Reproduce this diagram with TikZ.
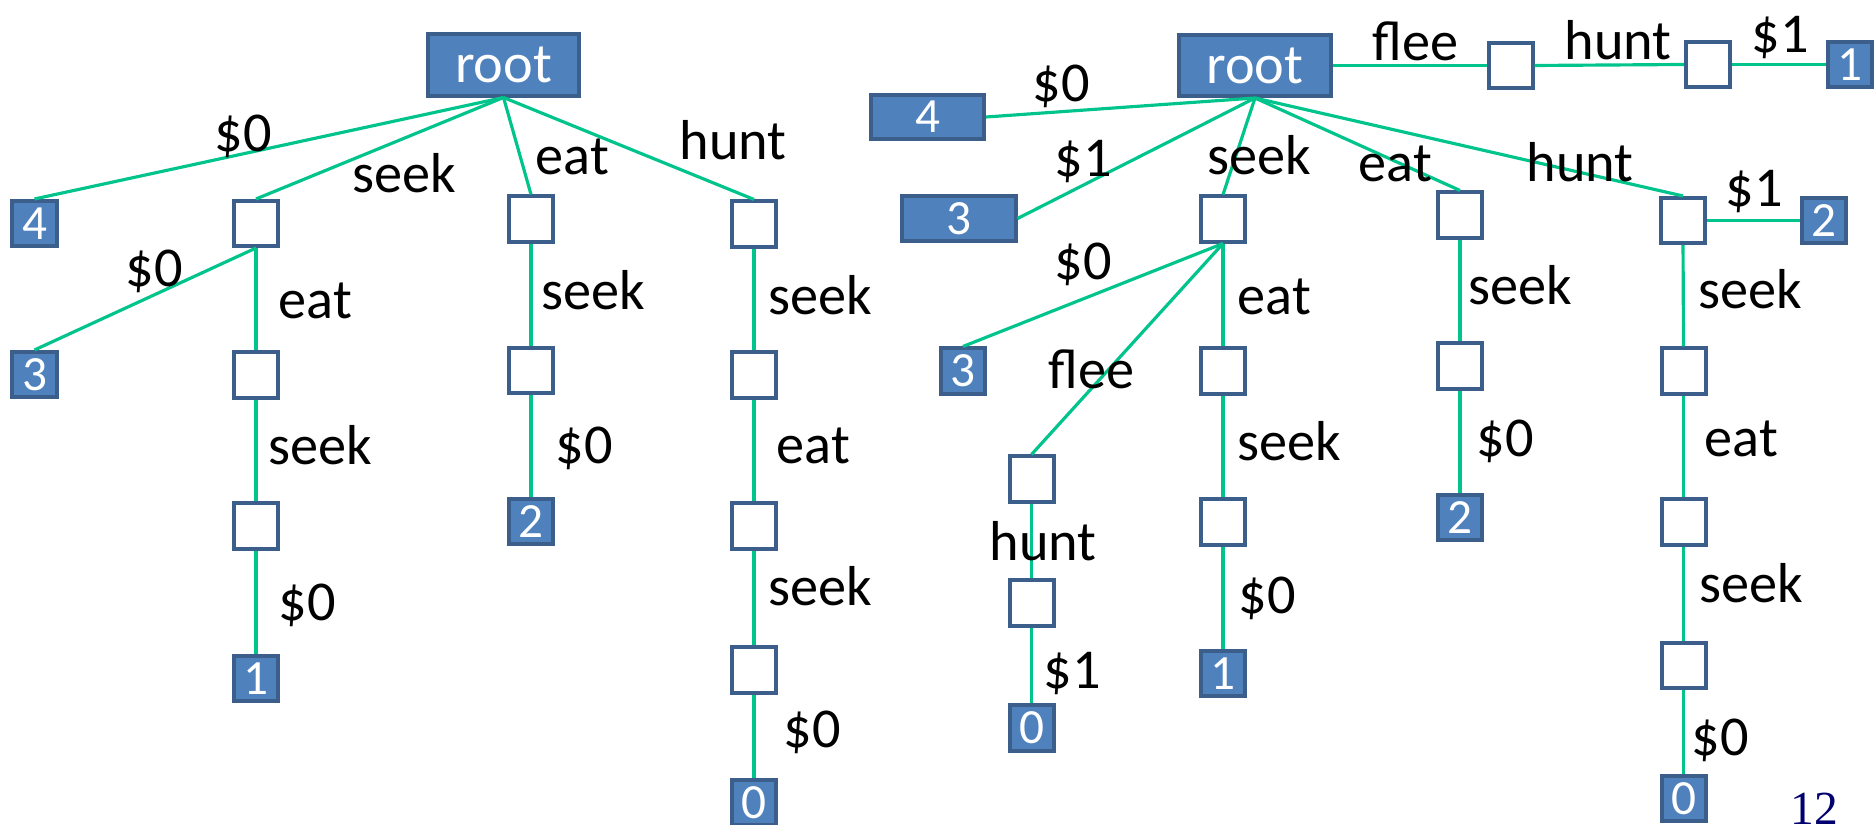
\documentclass[tikz,border=0pt]{standalone}
\usepackage{fontspec}
\setmainfont{Carlito}
\newfontfamily\pagenumfont{Liberation Serif}
\definecolor{edgecol}{RGB}{0,196,140}
\definecolor{nodefill}{RGB}{79,129,189}
\definecolor{nodeline}{RGB}{60,94,138}
\definecolor{pagenum}{RGB}{0,0,110}
\begin{document}
\begin{tikzpicture}[x=0.01cm,y=-0.01cm,
  leaf/.style={draw=nodeline,fill=nodefill,line width=1.14pt,minimum width=0.44cm,minimum height=0.45cm,inner sep=0pt,text=white,font=\fontsize{14}{14}\selectfont},
  wideleaf/.style={leaf,minimum width=1.13cm,minimum height=0.44cm},
  rootnode/.style={leaf,minimum width=1.51cm,minimum height=0.61cm,font=\fontsize{16}{16}\selectfont},
  innerbox/.style={draw=nodeline,fill=white,line width=1.14pt,minimum width=0.44cm,minimum height=0.45cm,inner sep=0pt},
  conn/.style={draw=edgecol,line width=0.9pt},
  lbl/.style={anchor=base west,inner sep=0pt,font=\fontsize{16}{16}\selectfont}]
\useasboundingbox (0,0) rectangle (1874,825);
% ---------- left tree ----------
\node[rootnode] (Lroot) at (503.5,65) {root};
\node[leaf] (L4) at (34.5,223.5) {4};
\node[innerbox] (La1) at (256,223.5) {};
\node[innerbox] (Le1) at (531,219) {};
\node[innerbox] (Lh1) at (754,224) {};
\node[leaf] (L3) at (34.5,374.5) {3};
\node[innerbox] (La2) at (256,375) {};
\node[innerbox] (Le2) at (531,370.5) {};
\node[innerbox] (Lh2) at (754,375) {};
\node[innerbox] (La3) at (256,526) {};
\node[leaf] (L2) at (531,521.5) {2};
\node[innerbox] (Lh3) at (754,526) {};
\node[leaf] (L1) at (256,678.5) {1};
\node[innerbox] (Lh4) at (754,670) {};
\node[leaf] (L0) at (754,802.5) {0};
\draw[conn] (Lroot.south) -- (L4.north);
\draw[conn] (Lroot.south) -- (La1.north);
\draw[conn] (Lroot.south) -- (Le1.north);
\draw[conn] (Lroot.south) -- (Lh1.north);
\draw[conn] (La1.south) -- (L3.north);
\draw[conn] (La1.south) -- (La2.north);
\draw[conn] (La2.south) -- (La3.north);
\draw[conn] (La3.south) -- (L1.north);
\draw[conn] (Le1.south) -- (Le2.north);
\draw[conn] (Le2.south) -- (L2.north);
\draw[conn] (Lh1.south) -- (Lh2.north);
\draw[conn] (Lh2.south) -- (Lh3.north);
\draw[conn] (Lh3.south) -- (Lh4.north);
\draw[conn] (Lh4.south) -- (L0.north);
\node[lbl] (lA) at (214,152) {\$0};
\node[lbl] (lB) at (352,193) {seek};
\node[lbl] (lC) at (535,175) {eat};
\node[lbl] (lD) at (679,160) {hunt};
\node[lbl] (lE) at (125,287) {\$0};
\node[lbl] (lF) at (278,319) {eat};
\node[lbl] (lG) at (541,310) {seek};
\node[lbl] (lH) at (768,315) {seek};
\node[lbl] (lI) at (268,465) {seek};
\node[lbl] (lJ) at (555,463) {\$0};
\node[lbl] (lK) at (776,464) {eat};
\node[lbl] (lL) at (278,620) {\$0};
\node[lbl] (lM) at (768,605) {seek};
\node[lbl] (lN) at (783,747) {\$0};
% ---------- right tree ----------
\node[rootnode] (Rroot) at (1255,65.5) {root};
\node[innerbox] (Rf1) at (1510.5,65.5) {};
\node[innerbox] (Rf2) at (1708,64.5) {};
\node[leaf] (R1a) at (1850,64.5) {1};
\node[wideleaf] (R4) at (927.5,117) {4};
\node[wideleaf] (R3) at (959,218.5) {3};
\node[innerbox] (Rs1) at (1223,219) {};
\node[innerbox] (Re1) at (1460,215) {};
\node[innerbox] (Rh1) at (1683,220.5) {};
\node[leaf] (R2a) at (1824,220.5) {2};
\node[leaf] (R3b) at (963,371) {3};
\node[innerbox] (Rs2) at (1223,371) {};
\node[innerbox] (Re2) at (1460,366) {};
\node[innerbox] (Rh2) at (1683.5,371) {};
\node[innerbox] (Rfl1) at (1031.5,479) {};
\node[innerbox] (Rfl2) at (1031.5,603) {};
\node[leaf] (R0a) at (1031.5,728) {0};
\node[innerbox] (Rs3) at (1223,522) {};
\node[leaf] (R1b) at (1223,673.5) {1};
\node[leaf] (R2b) at (1460,517.5) {2};
\node[innerbox] (Rh3) at (1683.5,522) {};
\node[innerbox] (Rh4) at (1683.5,665.5) {};
\node[leaf] (R0b) at (1683.5,798.5) {0};
\draw[conn] (Rroot.east) -- (Rf1.west);
\draw[conn] (Rf1.east) -- (Rf2.west);
\draw[conn] (Rf2.east) -- (R1a.west);
\draw[conn] (Rroot.south) -- (R4.east);
\draw[conn] (Rroot.south) -- (R3.east);
\draw[conn] (Rroot.south) -- (Rs1.north);
\draw[conn] (Rroot.south) -- (Re1.north);
\draw[conn] (Rroot.south) -- (Rh1.north);
\draw[conn] (Rh1.east) -- (R2a.west);
\draw[conn] (Rs1.south) -- (R3b.north);
\draw[conn] (Rs1.south) -- (Rs2.north);
\draw[conn] (Rs1.south) -- (Rfl1.north);
\draw[conn] (Rs2.south) -- (Rs3.north);
\draw[conn] (Rs3.south) -- (R1b.north);
\draw[conn] (Re1.south) -- (Re2.north);
\draw[conn] (Re2.south) -- (R2b.north);
\draw[conn] (Rh1.south) -- (Rh2.north);
\draw[conn] (Rh2.south) -- (Rh3.north);
\draw[conn] (Rh3.south) -- (Rh4.north);
\draw[conn] (Rh4.south) -- (R0b.north);
\draw[conn] (Rfl1.south) -- (Rfl2.north);
\draw[conn] (Rfl2.south) -- (R0a.north);
\node[lbl] (rA) at (1372,61) {flee};
\node[lbl] (rB) at (1564,60) {hunt};
\node[lbl] (rC) at (1751,53) {\$1};
\node[lbl] (rD) at (1032,102) {\$0};
\node[lbl] (rE) at (1054,177) {\$1};
\node[lbl] (rF) at (1207,175) {seek};
\node[lbl] (rG) at (1358,182) {eat};
\node[lbl] (rH) at (1526,182) {hunt};
\node[lbl] (rI) at (1725,207) {\$1};
\node[lbl] (rJ) at (1054,280) {\$0};
\node[lbl] (rK) at (1237,315) {eat};
\node[lbl] (rL) at (1468,305) {seek};
\node[lbl] (rM) at (1698,309) {seek};
\node[lbl] (rN) at (1048,389) {flee};
\node[lbl] (rO) at (1237,460) {seek};
\node[lbl] (rP) at (1476,457) {\$0};
\node[lbl] (rQ) at (1704,457) {eat};
\node[lbl] (rR) at (989,560) {hunt};
\node[lbl] (rS) at (1238,613) {\$0};
\node[lbl] (rT) at (1699,602) {seek};
\node[lbl] (rU) at (1043,688) {\$1};
\node[lbl] (rV) at (1691,755) {\$0};
\node[anchor=base west,inner sep=0pt,text=pagenum,font=\pagenumfont\fontsize{13.5}{13.5}\selectfont] (pg) at (1790,824) {12};
\end{tikzpicture}
\end{document}
